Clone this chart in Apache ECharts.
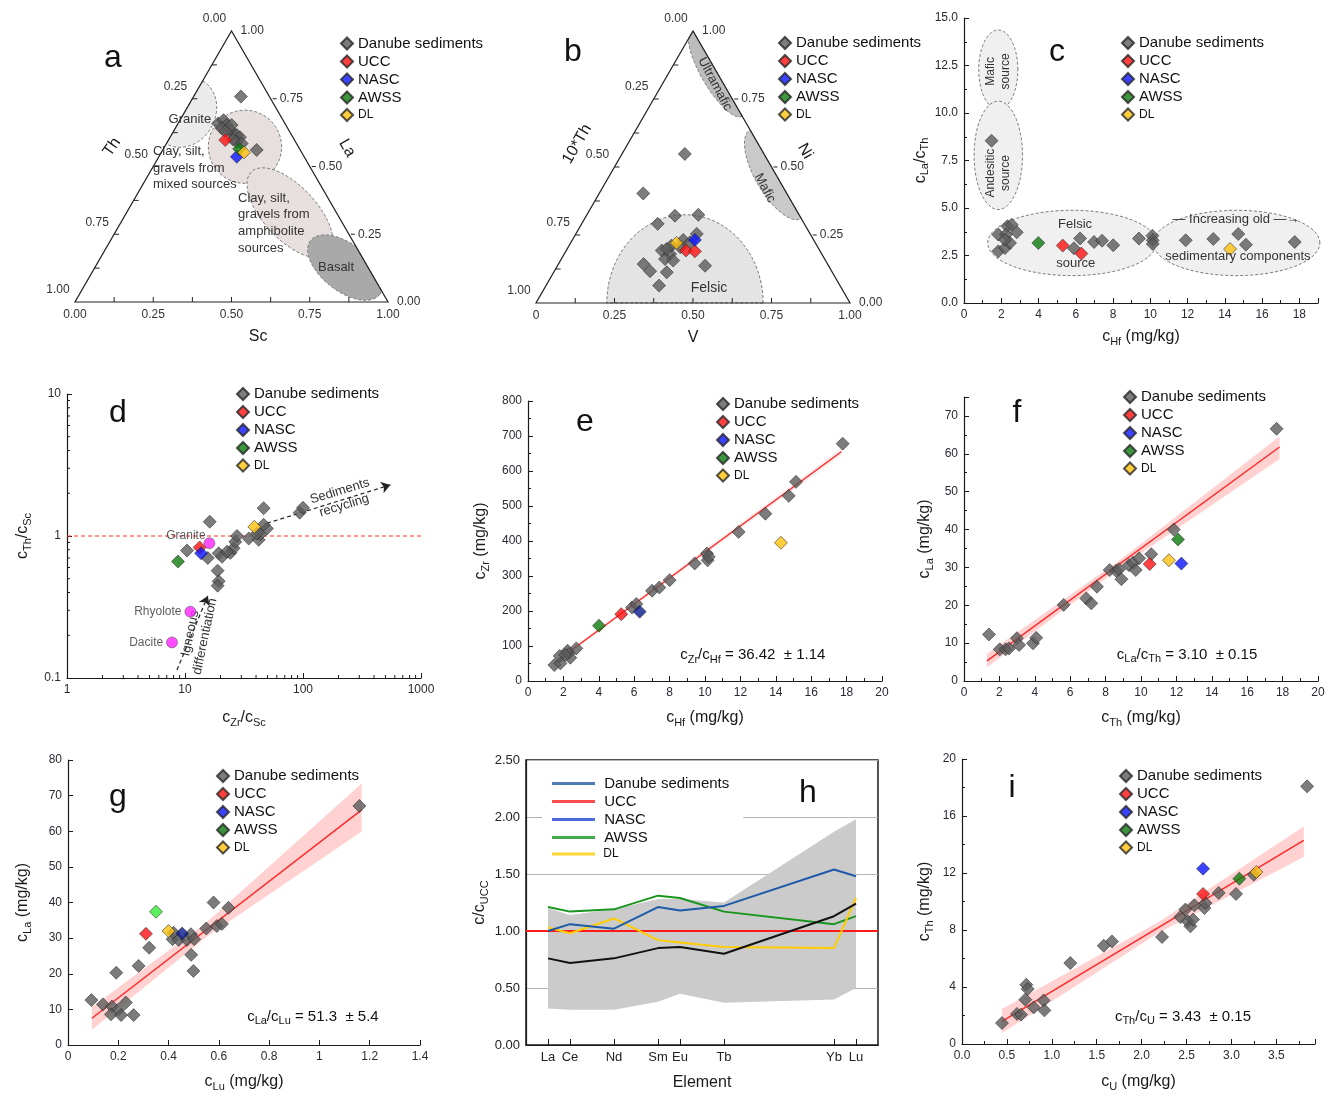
<!DOCTYPE html>
<html>
<head>
<meta charset="utf-8">
<title>Danube sediments – provenance diagrams</title>
<script src="https://cdn.jsdelivr.net/npm/echarts@6/dist/echarts.min.js"></script>
<style>
  html, body { margin: 0; padding: 0; background: #fff; }
  #chart { width: 1337px; height: 1102px; }
</style>
</head>
<body>
<div id="chart"></div>
<script>
// ---------------- data ----------------
// a: Th – Sc – La ternary, each point as [Sc, La] (Th = remainder)
const aDanube = [[0.151, 0.758], [0.128, 0.659], [0.139, 0.671], [0.158, 0.653], [0.148, 0.641], [0.178, 0.635],
  [0.195, 0.622], [0.209, 0.616], [0.223, 0.608], [0.221, 0.591], [0.240, 0.585], [0.300, 0.561], [0.174, 0.653],
  [0.165, 0.630], [0.205, 0.600]];
const aUCC = [[0.181, 0.598]];
const aNASC = [[0.249, 0.536]];
const aAWSS = [[0.242, 0.565]];
const aDL = [[0.264, 0.552]];

// b: 10*Th – V – Ni ternary, each point as [V, Ni]
const bDanube = [[0.200, 0.548], [0.140, 0.403], [0.242, 0.291], [0.282, 0.321], [0.355, 0.324], [0.385, 0.254],
  [0.353, 0.232], [0.304, 0.193], [0.337, 0.180], [0.330, 0.162], [0.359, 0.156], [0.357, 0.205], [0.271, 0.143],
  [0.305, 0.117], [0.360, 0.113], [0.360, 0.064], [0.470, 0.137], [0.326, 0.211], [0.317, 0.199], [0.379, 0.223]];
const bUCC = [[0.381, 0.193], [0.411, 0.190]];
const bNASC = [[0.390, 0.232]];
const bAWSS = [];
const bDL = [[0.337, 0.221]];

const ternTicks = [0, 0.25, 0.5, 0.75, 1];

// c: cHf vs cLa/cTh
const cDanube = [[1.48, 8.54], [1.84, 2.72], [1.84, 3.60], [2.20, 2.89], [2.33, 4.04], [2.25, 3.60], [2.47, 3.16],
  [2.56, 4.12], [2.83, 3.72], [2.20, 3.33], [6.23, 3.40], [5.90, 2.88], [6.98, 3.21], [7.41, 3.28], [8.01, 3.04],
  [9.39, 3.39], [10.11, 3.54], [10.13, 3.30], [10.13, 3.11], [11.90, 3.30], [13.38, 3.37], [14.72, 3.63],
  [15.13, 3.07], [17.75, 3.21]];
const cUCC = [[5.30, 3.02], [6.30, 2.60]];
const cNASC = [];
const cAWSS = [[3.99, 3.16]];
const cDL = [[14.28, 2.84]];

// d: cZr/cSc vs cTh/cSc (log-log)
const dDanube = [[10.4, 0.79], [16.2, 1.26], [15.6, 0.70], [19.3, 0.755], [20.6, 0.715], [18.9, 0.57], [19.3, 0.48],
  [18.9, 0.447], [24.2, 0.76], [25.8, 0.82], [26.7, 0.91], [27.6, 1.0], [34.7, 0.96], [42.1, 0.94], [43.5, 1.03],
  [46.4, 1.57], [49.5, 1.13], [46.4, 1.20], [93.7, 1.46], [100, 1.58], [22.7, 0.776], [40.7, 1.04]];
const dUCC = [[13.3, 0.83]];
const dNASC = [[13.7, 0.755]];
const dAWSS = [[8.72, 0.66]];
const dDL = [[38.7, 1.16]];
const rockNames = ['Granite', 'Rhyolote', 'Dacite'];
const rockPoints = [[16.1, 0.89], [11.1, 0.293], [7.76, 0.178]];

// e: cHf vs cZr
const eDanube = [[1.49, 45.7], [1.83, 50.4], [1.79, 71.3], [2.30, 79], [2.39, 66.6], [2.24, 86.6], [2.73, 93.2],
  [2.11, 74.2], [5.88, 210], [6.12, 220], [7.01, 258], [7.42, 267], [8.00, 288], [9.42, 336], [10.11, 364],
  [10.15, 345], [10.21, 355], [11.90, 426], [13.41, 478], [14.73, 529], [15.14, 569], [17.78, 678]];
const eUCC = [[5.27, 191]];
const eNASC = [[6.31, 198]];
const eAWSS = [[4.01, 158]];
const eDL = [[14.29, 395]];
const eFit = [[1.7, 60], [17.7, 655]];

// f: cTh vs cLa
const fDanube = [[1.41, 12.3], [2.02, 8.36], [2.35, 8.36], [2.54, 8.6], [2.99, 11.3], [3.11, 9.5], [3.90, 9.94],
  [4.08, 11.4], [5.63, 20.1], [6.91, 21.8], [7.19, 20.5], [7.51, 24.9], [8.23, 29.3], [8.60, 29.1], [8.76, 29.5],
  [8.89, 26.9], [9.32, 30.6], [9.55, 31.2], [9.70, 29.3], [9.89, 32.4], [10.58, 33.5], [11.85, 40.0], [17.66, 66.6]];
const fUCC = [[10.49, 30.9]];
const fNASC = [[12.28, 31.0]];
const fAWSS = [[12.09, 37.4]];
const fDL = [[11.58, 31.9]];
const fFit = [[1.30, 5.3], [17.83, 61.8]];
const fBand = [[1.30, 3.6, 7.2], [9.0, 30.6, 32.6], [17.83, 58.6, 64.6]];

// g: cLu vs cLa
const gDanube = [[0.093, 12.6], [0.139, 11.4], [0.175, 10.8], [0.171, 8.6], [0.192, 20.3], [0.201, 10.0],
  [0.211, 8.4], [0.230, 11.9], [0.261, 8.4], [0.281, 22.2], [0.323, 27.3], [0.416, 29.7], [0.420, 31.5],
  [0.44, 29.5], [0.473, 29.5], [0.489, 31.1], [0.502, 29.7], [0.490, 25.3], [0.499, 20.8], [0.550, 32.7],
  [0.579, 40.0], [0.592, 33.4], [0.612, 34.0], [0.638, 38.5], [1.159, 67.1]];
const gUCC = [[0.310, 31.2]];
const gNASC = [[0.454, 31.3]];
const gAWSS = [[0.350, 37.4]];
const gDL = [[0.400, 32.0]];
const gFit = [[0.095, 7.5], [1.168, 66.0]];
const gBand = [[0.095, 4.3, 10.7], [0.55, 30.3, 34.3], [1.168, 59.9, 73.4]];

// h: REE normalised to UCC
const hElements = ['La', 'Ce', 'Nd', 'Sm', 'Eu', 'Tb', 'Yb', 'Lu'];
const hZ = [57, 58, 60, 62, 63, 65, 70, 71];
const hDanube = [0.76, 0.72, 0.76, 0.85, 0.86, 0.80, 1.13, 1.24];
const hNASC = [1.00, 1.06, 1.02, 1.21, 1.18, 1.22, 1.54, 1.48];
const hAWSS = [1.21, 1.17, 1.19, 1.31, 1.29, 1.17, 1.06, 1.13];
const hDL = [1.03, 0.98, 1.11, 0.92, 0.90, 0.86, 0.85, 1.29];
const hUCC = [1.00, 1.00];
const hRangeHigh = [1.20, 1.14, 1.19, 1.28, 1.28, 1.25, 1.87, 1.98];
const hRangeLow = [0.32, 0.31, 0.31, 0.38, 0.45, 0.37, 0.40, 0.50];

// i: cU vs cTh
const iDanube = [[0.445, 1.47], [0.612, 2.11], [0.657, 2.06], [0.705, 3.11], [0.716, 4.16], [0.731, 3.86],
  [0.798, 2.57], [0.909, 3.06], [0.917, 2.36], [1.206, 5.68], [1.578, 6.90], [1.670, 7.20], [2.227, 7.51],
  [2.431, 8.91], [2.487, 9.43], [2.513, 8.61], [2.543, 8.26], [2.572, 8.73], [2.587, 9.73], [2.699, 9.54],
  [2.710, 9.89], [2.858, 10.60], [3.051, 10.53], [3.248, 11.88], [3.842, 18.08]];
const iUCC = [[2.684, 10.53]];
const iNASC = [[2.684, 12.30]];
const iAWSS = [[3.088, 11.60]];
const iDL = [[3.278, 12.07]];
const iFit = [[0.445, 1.59], [3.805, 14.29]];
const iBand = [[0.445, 0.77, 2.46], [2.2, 7.85, 8.6], [3.805, 13.12, 15.27]];

// ---------------- helpers ----------------
const FONT = 'Arial, "Liberation Sans", sans-serif';
const W = Math.sqrt(3) / 2;
const NAMES = ['Danube sediments', 'UCC', 'NASC', 'AWSS', 'DL'];
const COLORS = ['#5b5b5b', '#ff1010', '#0a14ff', '#0c7c0c', '#ffc20e'];

// ternary [bottom, top] -> cartesian
const tern = p => [p[0] + p[1] / 2, p[1] * W];

const RICH_AX = {
  n: {fontSize: 16, color: '#1a1a1a', fontFamily: FONT, lineHeight: 20},
  s: {fontSize: 11, color: '#1a1a1a', fontFamily: FONT, lineHeight: 12, verticalAlign: 'bottom'}
};
const RICH_TXT = {
  n: {fontSize: 15, fill: '#111', fontFamily: FONT, lineHeight: 20},
  s: {fontSize: 11, fill: '#111', fontFamily: FONT, lineHeight: 12, verticalAlign: 'bottom'}
};

function dots(xi, sets, conv, over) {
  return sets.map((d, k) => ({
    type: 'scatter', name: NAMES[k], xAxisIndex: xi, yAxisIndex: xi,
    data: conv ? d.map(conv) : d,
    symbol: 'diamond', symbolSize: 13, z: 5, silent: true,
    itemStyle: Object.assign({color: COLORS[k], borderColor: '#262626', borderWidth: 0.7}, (over && over[k]) || {})
  }));
}

function axis(gi, o) {
  const base = {
    type: 'value', gridIndex: gi,
    axisLine: {show: true, onZero: false, lineStyle: {color: '#1a1a1a', width: 1.2}},
    axisTick: {show: true, inside: true, length: 5, lineStyle: {color: '#1a1a1a'}},
    minorTick: {show: true, splitNumber: 2, length: 3, lineStyle: {color: '#1a1a1a'}},
    splitLine: {show: false},
    axisLabel: {color: '#2a2a35', fontSize: 12, fontFamily: FONT, margin: 6},
    nameLocation: 'middle', nameTextStyle: {rich: RICH_AX}
  };
  for (const k in o) {
    const v = o[k];
    base[k] = (v && typeof v === 'object' && !Array.isArray(v) && base[k]) ? Object.assign({}, base[k], v) : v;
  }
  return base;
}
const hidden = (gi, max) => ({type: 'value', gridIndex: gi, min: 0, max, show: false});

function ellipse(r) {
  const pts = [], th = (r.ang || 0) * Math.PI / 180;
  for (let i = 0; i < 96; i++) {
    const t = i / 96 * 2 * Math.PI, ex = r.a * Math.cos(t), ey = r.b * Math.sin(t);
    pts.push([r.c[0] + ex * Math.cos(th) - ey * Math.sin(th), r.c[1] + ex * Math.sin(th) + ey * Math.cos(th)]);
  }
  return pts;
}

// keep a polygon inside the ternary triangle
function clipTri(poly) {
  const edges = [[[0, 0], [1, 0]], [[1, 0], [0.5, W]], [[0.5, W], [0, 0]]];
  let out = poly;
  for (const [a, b] of edges) {
    const inp = out; out = [];
    const side = p => (b[0] - a[0]) * (p[1] - a[1]) - (b[1] - a[1]) * (p[0] - a[0]);
    const cut = (p, q, sp, sq) => { const t = sp / (sp - sq); return [p[0] + t * (q[0] - p[0]), p[1] + t * (q[1] - p[1])]; };
    for (let i = 0; i < inp.length; i++) {
      const cur = inp[i], prev = inp[(i + inp.length - 1) % inp.length];
      const sc = side(cur), sp = side(prev);
      if (sc >= 0) { if (sp < 0) out.push(cut(prev, cur, sp, sc)); out.push(cur); }
      else if (sp >= 0) out.push(cut(prev, cur, sp, sc));
    }
  }
  return out;
}

function regions(xi, list, tri) {
  return {
    type: 'custom', xAxisIndex: xi, yAxisIndex: xi, silent: true, clip: false, z: 1,
    data: list.map(r => r.c),
    renderItem: (params, api) => {
      const r = list[params.dataIndex];
      let poly = ellipse(r);
      if (tri) poly = clipTri(poly);
      return {type: 'polygon', shape: {points: poly.map(p => api.coord(p))},
        style: {fill: r.fill, stroke: '#7a7a7a', lineWidth: 1, lineDash: [3, 2]}};
    }
  };
}

function notes(xi, items) {
  return {
    type: 'custom', xAxisIndex: xi, yAxisIndex: xi, silent: true, clip: false, z: 6,
    data: items.map(it => it.at),
    renderItem: (params, api) => {
      const it = items[params.dataIndex];
      const p = api.coord(it.at);
      return {type: 'text', x: p[0], y: p[1], rotation: (it.rot || 0) * Math.PI / 180,
        style: {text: it.text, fill: it.color || '#333', fontSize: it.size || 13, fontFamily: FONT,
          align: it.align || 'center', verticalAlign: 'middle', lineHeight: it.lh || 16, rich: it.rich}};
    }
  };
}

function ternFrame(xi, bottomFmt) {
  return {
    type: 'custom', xAxisIndex: xi, yAxisIndex: xi, silent: true, clip: false, z: 3,
    data: [[0, 0]],
    renderItem: (params, api) => {
      const P = (s, t) => api.coord(tern([s, t]));
      const kids = [];
      const ln = (x1, y1, x2, y2) => ({type: 'line', shape: {x1, y1, x2, y2}, style: {stroke: '#222', lineWidth: 1}});
      const tx = (x, y, text, align) => ({type: 'text', x, y,
        style: {text, fill: '#333', fontSize: 12, fontFamily: FONT, align: align || 'center', verticalAlign: 'middle'}});
      kids.push({type: 'polygon', shape: {points: [P(0, 0), P(1, 0), P(0, 1)]},
        style: {fill: 'none', stroke: '#222', lineWidth: 1.2}});
      for (let k = 1; k < 8; k++) {
        const v = k / 8;
        const b = P(v, 0), l = P(0, 1 - v), r = P(1 - v, v);
        kids.push(ln(b[0], b[1], b[0], b[1] - 5));
        kids.push(ln(l[0], l[1], l[0] + 5, l[1]));
        if (k % 2 === 0) kids.push(ln(r[0] + 2, r[1], r[0] + 6, r[1]));
      }
      ternTicks.forEach(v => {
        const b = P(v, 0), l = P(0, 1 - v), r = P(1 - v, v);
        kids.push(tx(b[0], b[1] + 13, bottomFmt(v)));
        kids.push(tx(l[0] - 17, l[1] - 12, v.toFixed(2)));
        kids.push(tx(r[0] + 9, r[1], v.toFixed(2), 'left'));
      });
      return {type: 'group', children: kids};
    }
  };
}

function fitLine(xi, pts) {
  return {type: 'line', name: 'fit', xAxisIndex: xi, yAxisIndex: xi, data: pts, symbol: 'none', silent: true,
    z: 4, lineStyle: {color: '#ff2626', width: 1.4}};
}
function fitBand(xi, pts, fill) {
  return {
    type: 'custom', xAxisIndex: xi, yAxisIndex: xi, silent: true, z: 1,
    data: pts.map(p => [p[0], p[1]]),
    renderItem: (params, api) => {
      if (params.dataIndex !== 0) return null;
      const up = pts.map(p => api.coord([p[0], p[2]]));
      const lo = pts.map(p => api.coord([p[0], p[1]])).reverse();
      return {type: 'polygon', shape: {points: up.concat(lo)}, style: {fill: fill || 'rgba(255,70,70,0.25)'}};
    }
  };
}

function legendAt(left, top) {
  return {
    orient: 'vertical', left, top, padding: 0, itemGap: 3, itemWidth: 12, itemHeight: 12,
    textStyle: {fontSize: 15, color: '#111', fontFamily: FONT},
    data: NAMES.map(n => n === 'DL' ? {name: n, textStyle: {fontSize: 12}} : n)
  };
}

// ---------------- layout ----------------
const GRIDS = [
  {left: 75, top: 31, width: 313, height: 271},    // a
  {left: 536, top: 31, width: 314, height: 272},   // b
  {left: 964, top: 18, width: 354, height: 285},   // c
  {left: 67, top: 394, width: 354, height: 284},   // d
  {left: 528, top: 401, width: 354, height: 280},  // e
  {left: 964, top: 397, width: 354, height: 284},  // f
  {left: 68, top: 760, width: 352, height: 285},   // g
  {left: 526, top: 760, width: 352, height: 285, show: true, borderColor: '#1a1a1a', borderWidth: 1.5}, // h
  {left: 962, top: 759, width: 353, height: 285}   // i
];

const xAxes = [
  hidden(0, 1),
  hidden(1, 1),
  axis(2, {min: 0, max: 19, interval: 2, axisLabel: {showMaxLabel: false}, name: '{n|c}{s|Hf}{n| (mg/kg)}', nameGap: 24}),
  axis(3, {type: 'log', logBase: 10, min: 1, max: 1000, minorTick: {show: false}, axisLabel: {formatter: v => String(v)},
    name: '{n|c}{s|Zr}{n|/c}{s|Sc}', nameGap: 30}),
  axis(4, {min: 0, max: 20, interval: 2, name: '{n|c}{s|Hf}{n| (mg/kg)}', nameGap: 27}),
  axis(5, {min: 0, max: 20, interval: 2, name: '{n|c}{s|Th}{n| (mg/kg)}', nameGap: 27}),
  axis(6, {min: 0, max: 1.4, interval: 0.2, minorTick: {show: false}, name: '{n|c}{s|Lu}{n| (mg/kg)}', nameGap: 27}),
  axis(7, {min: 56, max: 72, minorTick: {show: false},
    axisTick: {customValues: hZ, length: 6},
    axisLabel: {customValues: hZ, formatter: v => hElements[hZ.indexOf(v)] || '', fontSize: 13, color: '#222'},
    name: '{n|Element}', nameGap: 28}),
  axis(8, {min: 0, max: 3.93, interval: 0.5, axisLabel: {showMaxLabel: false, formatter: v => v.toFixed(1)},
    name: '{n|c}{s|U}{n| (mg/kg)}', nameGap: 28})
];

const yAxes = [
  hidden(0, W),
  hidden(1, W),
  axis(2, {min: 0, max: 15, interval: 2.5, axisLabel: {formatter: v => v.toFixed(1)}, name: '{n|c}{s|La}{n|/c}{s|Th}', nameGap: 29}),
  axis(3, {type: 'log', logBase: 10, min: 0.1, max: 10, minorTick: {show: false}, axisLabel: {formatter: v => String(v)},
    name: '{n|c}{s|Th}{n|/c}{s|Sc}', nameGap: 34}),
  axis(4, {min: 0, max: 800, interval: 100, name: '{n|c}{s|Zr}{n| (mg/kg)}', nameGap: 37}),
  axis(5, {min: 0, max: 75, interval: 10, axisLabel: {showMaxLabel: false}, name: '{n|c}{s|La}{n| (mg/kg)}', nameGap: 29}),
  axis(6, {min: 0, max: 80, interval: 10, minorTick: {show: false}, name: '{n|c}{s|La}{n| (mg/kg)}', nameGap: 35}),
  axis(7, {min: 0, max: 2.5, interval: 0.5, axisTick: {show: false}, minorTick: {show: false},
    axisLabel: {formatter: v => v.toFixed(2), fontSize: 13, color: '#222'},
    splitLine: {show: true, lineStyle: {color: '#b4b4b4', width: 1.2}},
    name: '{n|c/c}{s|UCC}', nameGap: 36}),
  axis(8, {min: 0, max: 20, interval: 4, name: '{n|c}{s|Th}{n| (mg/kg)}', nameGap: 27})
];

// ---------------- annotations ----------------
const aRegions = [
  {c: [0.35, 0.606], a: 0.116, b: 0.098, ang: 60, fill: '#ebebeb'},
  {c: [0.543, 0.496], a: 0.117, b: 0.117, ang: 0, fill: '#e6dfdd'},
  {c: [0.687, 0.285], a: 0.18, b: 0.085, ang: -47, fill: '#e6dfdd'},
  {c: [0.863, 0.11], a: 0.14, b: 0.075, ang: -38, fill: '#a9a9a9'}
];
const aNotes = [
  {at: [0.585, -0.112], text: 'Sc', size: 16, color: '#1a1a1a'},
  {at: [0.118, 0.495], text: 'Th', size: 16, rot: 55, color: '#1a1a1a'},
  {at: [0.869, 0.492], text: 'La', size: 16, rot: -60, color: '#1a1a1a'},
  {at: [0.367, 0.585], text: 'Granite'},
  {at: [0.249, 0.428], text: 'Clay, silt,\ngravels from\nmixed sources', align: 'left', lh: 16.5},
  {at: [0.521, 0.252], text: 'Clay, silt,\ngravels from\namphibolite\nsources', align: 'left', lh: 16.7},
  {at: [0.834, 0.112], text: 'Basalt'}
];

const bRegions = [
  {c: [0.4745, 0], a: 0.249, b: 0.281, ang: 0, fill: '#e4e4e4'},
  {c: [0.576, 0.734], a: 0.161, b: 0.05, ang: -60, fill: '#bcbcbc'},
  {c: [0.763, 0.41], a: 0.163, b: 0.065, ang: -60, fill: '#c9c9c9'}
];
const bNotes = [
  {at: [0.5, -0.111], text: 'V', size: 16, color: '#1a1a1a'},
  {at: [0.131, 0.506], text: '10*Th', size: 16, rot: 60, color: '#1a1a1a'},
  {at: [0.857, 0.484], text: 'Ni', size: 16, rot: -60, color: '#1a1a1a'},
  {at: [0.570, 0.697], text: 'Ultramafic', rot: -62},
  {at: [0.729, 0.366], text: 'Mafic', rot: -62},
  {at: [0.551, 0.048], text: 'Felsic', size: 14}
];

const cRegions = [
  {c: [1.84, 12.28], a: 1.05, b: 2.09, fill: '#f0f0f0'},
  {c: [1.84, 7.77], a: 1.30, b: 2.85, fill: '#f0f0f0'},
  {c: [5.80, 3.16], a: 4.53, b: 1.72, fill: '#f0f0f0'},
  {c: [14.63, 3.16], a: 4.47, b: 1.72, fill: '#f0f0f0'}
];
const cNotes = [
  {at: [1.81, 12.19], text: 'Mafic\nsource', rot: 90, size: 12, lh: 15},
  {at: [1.81, 6.84], text: 'Andesitic\nsource', rot: 90, size: 12, lh: 15},
  {at: [5.96, 4.12], text: 'Felsic'},
  {at: [6.0, 2.1], text: 'source'},
  {at: [14.6, 4.39], text: '— Increasing old —→'},
  {at: [14.7, 2.45], text: 'sedimentary components'}
];

const dNotes = [
  {at: [214, 1.84], text: 'Sediments\nrecycling', rot: 17, lh: 15},
  {at: [12.8, 0.201], text: 'Igneous\ndifferentiation', rot: 78, lh: 15}
];
const logMinor = [1, 10, 100].flatMap(d => [2, 3, 4, 5, 6, 7, 8, 9].map(k => k * d));
const logMinorY = [0.1, 1].flatMap(d => [2, 3, 4, 5, 6, 7, 8, 9].map(k => k * d));

const statNote = (xi, at, text) => notes(xi, [{at, text, rich: RICH_TXT, align: 'center'}]);

// ---------------- series ----------------
const series = [];
// a
series.push(regions(0, aRegions, true), ternFrame(0, v => v.toFixed(2)), notes(0, aNotes));
series.push(...dots(0, [aDanube, aUCC, aNASC, aAWSS, aDL], tern));
// b
series.push(regions(1, bRegions, true), ternFrame(1, v => v === 0 ? '0' : v.toFixed(2)), notes(1, bNotes));
series.push(...dots(1, [bDanube, bUCC, bNASC, bAWSS, bDL], tern));
// c
series.push(regions(2, cRegions, false), notes(2, cNotes));
series.push(...dots(2, [cDanube, cUCC, cNASC, cAWSS, cDL]));
// d
series.push({type: 'line', name: 'ref', xAxisIndex: 3, yAxisIndex: 3, data: [[1, 1], [1000, 1]], symbol: 'none',
  silent: true, z: 2, lineStyle: {color: '#ff3030', type: [4, 3], width: 1.2}});
series.push({type: 'lines', name: 'trend', coordinateSystem: 'cartesian2d', xAxisIndex: 3, yAxisIndex: 3, silent: true, z: 3,
  symbol: ['none', 'arrow'], symbolSize: 9,
  lineStyle: {color: '#222', type: [4, 3], width: 1.2, opacity: 1},
  data: [{coords: [[49.5, 1.23], [550, 2.29]]}, {coords: [[8.55, 0.114], [15.6, 0.378]]}]});
series.push(notes(3, dNotes));
series.push({type: 'custom', xAxisIndex: 3, yAxisIndex: 3, silent: true, clip: false, z: 3, data: [[1, 0.1]],
  renderItem: (params, api) => {
    const kids = [];
    logMinor.forEach(v => { const p = api.coord([v, 0.1]);
      kids.push({type: 'line', shape: {x1: p[0], y1: p[1], x2: p[0], y2: p[1] - 3}, style: {stroke: '#1a1a1a', lineWidth: 1}}); });
    logMinorY.forEach(v => { const p = api.coord([1, v]);
      kids.push({type: 'line', shape: {x1: p[0], y1: p[1], x2: p[0] + 3, y2: p[1]}, style: {stroke: '#1a1a1a', lineWidth: 1}}); });
    return {type: 'group', children: kids};
  }});
series.push({type: 'scatter', name: 'igneous rocks', xAxisIndex: 3, yAxisIndex: 3, symbol: 'circle', symbolSize: 11, z: 6,
  silent: true, itemStyle: {color: '#ff22ff', borderColor: '#555', borderWidth: 0.7},
  data: rockPoints.map((p, i) => ({value: p, label: {show: true, formatter: rockNames[i], position: 'left', distance: 3,
    offset: i === 0 ? [5, -7] : [0, 0], fontSize: 12, color: '#333', fontFamily: FONT}}))});
series.push(...dots(3, [dDanube, dUCC, dNASC, dAWSS, dDL]));
// e
series.push(fitBand(4, [[1.7, 55, 65], [17.7, 645, 665]], 'rgba(255,90,90,0.12)'));
series.push(fitLine(4, eFit), statNote(4, [12.7, 74], '{n|c}{s|Zr}{n|/c}{s|Hf}{n| = 36.42  ± 1.14}'));
series.push(...dots(4, [eDanube, eUCC, eNASC, eAWSS, eDL], null, [null, null, {color: '#0a1a8c'}, null, null]));
// f
series.push(fitBand(5, fBand), fitLine(5, fFit), statNote(5, [12.6, 6.9], '{n|c}{s|La}{n|/c}{s|Th}{n| = 3.10  ± 0.15}'));
series.push(...dots(5, [fDanube, fUCC, fNASC, fAWSS, fDL]));
// g
series.push(fitBand(6, gBand), fitLine(6, gFit), statNote(6, [0.974, 7.9], '{n|c}{s|La}{n|/c}{s|Lu}{n| = 51.3  ± 5.4}'));
series.push(...dots(6, [gDanube, gUCC, gNASC, gAWSS, gDL], null, [null, null, {color: '#0a1a8c'}, {color: '#33ee33'}, null]));
// h
series.push({type: 'custom', xAxisIndex: 7, yAxisIndex: 7, silent: true, z: 1,
  data: hZ.map((z, i) => [z, hRangeHigh[i]]),
  renderItem: (params, api) => {
    if (params.dataIndex !== 0) return null;
    const up = hZ.map((z, i) => api.coord([z, hRangeHigh[i]]));
    const lo = hZ.map((z, i) => api.coord([z, hRangeLow[i]])).reverse();
    return {type: 'polygon', shape: {points: up.concat(lo)}, style: {fill: '#cbcbcb'}};
  }});
const hLine = (name, vals, color, z) => ({type: 'line', name, xAxisIndex: 7, yAxisIndex: 7, symbol: 'none', silent: true, z,
  data: hZ.map((zv, i) => [zv, vals[i]]), lineStyle: {color, width: 2}, itemStyle: {color}});
series.push(hLine('AWSS', hAWSS, '#17951c', 3));
series.push(hLine('DL', hDL, '#ffcc00', 3));
series.push(hLine('NASC', hNASC, '#1f5aa6', 4));
series.push(hLine('Danube sediments', hDanube, '#111', 5));
series.push({type: 'line', name: 'UCC', xAxisIndex: 7, yAxisIndex: 7, symbol: 'none', silent: true, z: 2,
  data: [[56, hUCC[0]], [72, hUCC[1]]], lineStyle: {color: '#ff1a1a', width: 2}, itemStyle: {color: '#ff1a1a'}});
// i
series.push(fitBand(8, iBand), fitLine(8, iFit), statNote(8, [2.46, 1.9], '{n|c}{s|Th}{n|/c}{s|U}{n| = 3.43  ± 0.15}'));
series.push(...dots(8, [iDanube, iUCC, iNASC, iAWSS, iDL]));

// ---------------- legends & letters ----------------
const hLegendCols = ['#1f5aa6', '#ff2020', '#2244d0', '#17951c', '#ffcc00'];
const legends = [
  legendAt(340, 36), legendAt(778, 35.5), legendAt(1121, 35.5),
  legendAt(236, 386.5), legendAt(716, 396.5), legendAt(1123, 389.5),
  legendAt(216, 768.5), legendAt(1119, 768.5),
  {
    orient: 'vertical', left: 542, top: 768, padding: [8, 14, 8, 10], backgroundColor: '#fff',
    itemGap: 3, itemWidth: 43, itemHeight: 3,
    textStyle: {fontSize: 15, color: '#111', fontFamily: FONT},
    formatter: n => ' ' + n,
    data: NAMES.map((n, k) => ({name: n, icon: 'rect', itemStyle: {color: hLegendCols[k], borderWidth: 0},
      textStyle: n === 'DL' ? {fontSize: 12} : undefined}))
  }
];

const letters = [['a', 113, 58], ['b', 573, 52], ['c', 1057, 52], ['d', 118, 413], ['e', 585, 422],
  ['f', 1017, 413], ['g', 118, 797], ['h', 808, 793], ['i', 1012, 788]].map(([t, x, y]) => ({
  type: 'text', x, y, z: 10, silent: true,
  style: {text: t, fontSize: 32, fill: '#111', fontFamily: FONT, align: 'center', verticalAlign: 'middle'}
}));

const chart = echarts.init(document.getElementById('chart'), null, {renderer: 'canvas'});
chart.setOption({
  animation: false,
  backgroundColor: '#fff',
  textStyle: {fontFamily: FONT},
  grid: GRIDS.map(g => Object.assign({containLabel: false, outerBoundsMode: 'none'}, g)),
  xAxis: xAxes,
  yAxis: yAxes,
  legend: legends,
  graphic: letters,
  series
});
</script>
</body>
</html>
